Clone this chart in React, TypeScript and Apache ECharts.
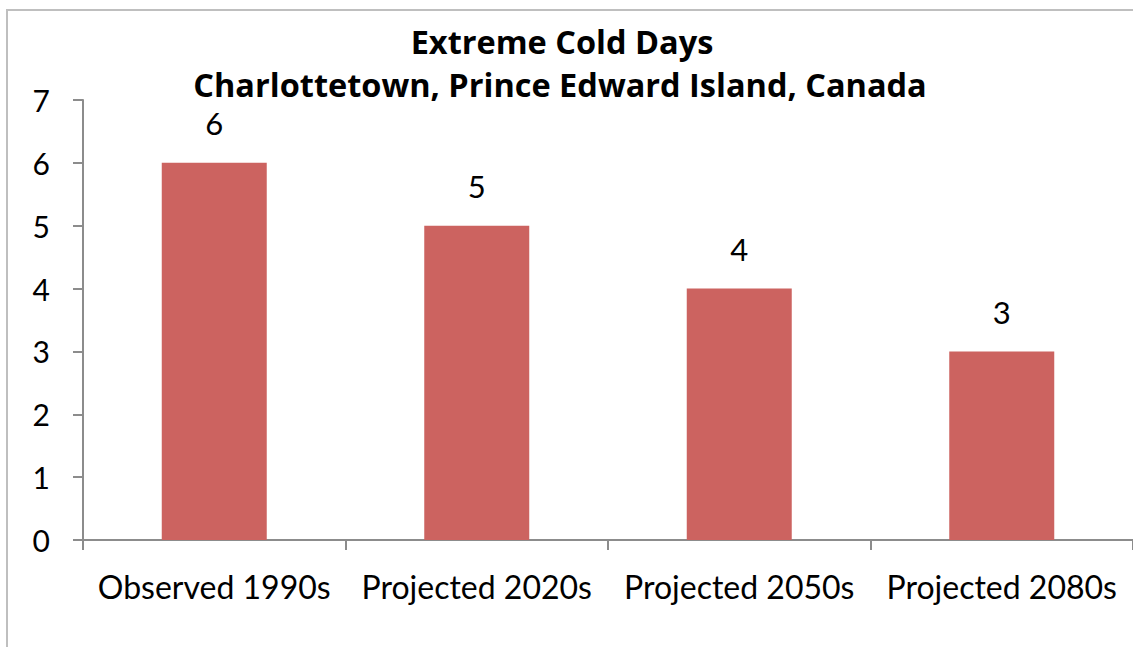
import React, { useEffect, useRef } from "react";
import * as echarts from "echarts";

const categories = ["Observed 1990s", "Projected 2020s", "Projected 2050s", "Projected 2080s"];
const coldDays = [6, 5, 4, 3];
const titleLine1 = "Extreme Cold Days";
const titleLine2 = "Charlottetown, Prince Edward Island, Canada";

export default function App() {
  const ref = useRef<HTMLDivElement>(null);
  useEffect(() => {
    document.body.style.margin = "0";
    const chart = echarts.init(ref.current!, null, { renderer: "svg" });
    const font = "Lato, 'Open Sans', sans-serif";
    const titleFont = "'Open Sans', Lato, sans-serif";
    chart.setOption({
      animation: false,
      backgroundColor: "#ffffff",
      title: [
        {
          text: titleLine1,
          left: 557,
          top: 20,
          textAlign: "center",
          textStyle: { fontFamily: titleFont, fontWeight: "bold", fontSize: 32.5, color: "#000" },
        },
        {
          text: titleLine2,
          left: 555,
          top: 63,
          textAlign: "center",
          textStyle: { fontFamily: titleFont, fontWeight: "bold", fontSize: 32.5, color: "#000" },
        },
      ],
      graphic: [
        {
          type: "rect",
          shape: { x: 7, y: 10, width: 1200, height: 700 },
          style: { fill: "none", stroke: "#bfbfbf", lineWidth: 2 },
          silent: true,
          z: -10,
        },
      ],
      grid: { left: 83, top: 100, width: 1054, height: 440 },
      xAxis: {
        type: "category",
        data: categories,
        axisLine: { lineStyle: { color: "#8c8c8c", width: 2 } },
        axisTick: { show: true, length: 10, alignWithLabel: false, lineStyle: { color: "#8c8c8c", width: 2 } },
        axisLabel: { fontFamily: font, fontSize: 32, color: "#000", margin: 30, interval: 0 },
      },
      yAxis: {
        type: "value",
        min: 0,
        max: 7,
        interval: 1,
        splitLine: { show: false },
        axisLine: { show: true, lineStyle: { color: "#8c8c8c", width: 2 } },
        axisTick: { show: true, length: 10, lineStyle: { color: "#8c8c8c", width: 2 } },
        axisLabel: { fontFamily: font, fontSize: 30, color: "#000", margin: 33 },
      },
      series: [
        {
          type: "bar",
          data: coldDays,
          barWidth: "40%",
          itemStyle: { color: "#cc6360" },
          label: {
            show: true,
            position: "top",
            distance: 24,
            fontFamily: font,
            fontSize: 31,
            color: "#000",
          },
        },
      ],
    });
    return () => chart.dispose();
  }, []);
  return <div ref={ref} style={{ width: 1133, height: 647 }} />;
}
